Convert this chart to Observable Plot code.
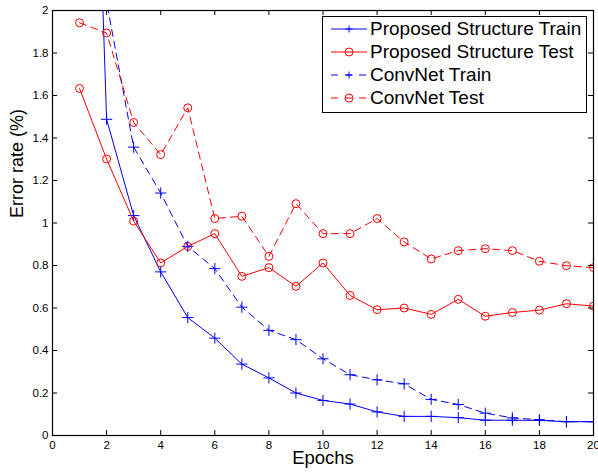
<!DOCTYPE html>
<html>
<head>
<meta charset="utf-8">
<script src="https://cdn.jsdelivr.net/npm/d3@7"></script>
<script src="https://cdn.jsdelivr.net/npm/@observablehq/plot@0.6"></script>
<style>
  html, body { margin: 0; padding: 0; background: #fff; }
  #wrap { position: relative; width: 598px; height: 475px; font-family: "Liberation Sans", Arial, Helvetica, sans-serif; }
  #legend { position: absolute; left: 322px; top: 16px; width: 263px; height: 95px; background: #fff; border: 1px solid #000; }
  #legend .row { position: absolute; left: 0; height: 24px; display: flex; align-items: center; }
  #legend .row span { font-size: 19px; color: #000; margin-left: 3px; white-space: nowrap; }
</style>
</head>
<body>
<div id="wrap"></div>
<script>
const epochs = [1,2,3,4,5,6,7,8,9,10,11,12,13,14,15,16,17,18,19,20];
const proposedTrain = [5.3,1.488,1.035,0.77,0.555,0.458,0.336,0.271,0.200,0.165,0.148,0.111,0.090,0.090,0.084,0.072,0.072,0.071,0.065,0.065];
const proposedTest  = [1.633,1.301,1.009,0.812,0.890,0.950,0.749,0.790,0.702,0.812,0.659,0.592,0.600,0.570,0.641,0.561,0.579,0.590,0.620,0.609];
const convTrain     = [3.2,2.04,1.357,1.141,0.890,0.785,0.604,0.495,0.451,0.361,0.286,0.262,0.243,0.170,0.146,0.105,0.083,0.074,0.065,0.065];
const convTest      = [1.942,1.894,1.473,1.322,1.542,1.021,1.032,0.843,1.091,0.950,0.950,1.021,0.911,0.831,0.870,0.879,0.870,0.820,0.799,0.790];
const seriesNames = ["Proposed Structure Train","Proposed Structure Test","ConvNet Train","ConvNet Test"];
const xTicks = [0,2,4,6,8,10,12,14,16,18,20];
const yTicks = [0,0.2,0.4,0.6,0.8,1,1.2,1.4,1.6,1.8,2];

const styles = [
  {color: "#0000ff", dash: null, symbol: "plus"},
  {color: "#ff0000", dash: null, symbol: "circle"},
  {color: "#0000ff", dash: "7,5", symbol: "plus"},
  {color: "#ff0000", dash: "7,5", symbol: "circle"}
];
const allValues = [proposedTrain, proposedTest, convTrain, convTest];
const series = allValues.map((vals, k) => epochs.map((e, i) => ({epoch: e, value: vals[i], name: seriesNames[k]})));

const marks = [];
series.forEach((data, k) => {
  const s = styles[k];
  marks.push(Plot.line(data, {x: "epoch", y: "value", stroke: s.color, strokeWidth: 1, strokeDasharray: s.dash, clip: true}));
  marks.push(Plot.dot(data, {x: "epoch", y: "value", stroke: s.color, strokeWidth: 1, fill: "none", symbol: s.symbol, r: s.symbol === "plus" ? 3.7 : 4, clip: true}));
});

const fmt = d => String(+d.toFixed(1));

const chart = Plot.plot({
  width: 598,
  height: 475,
  marginLeft: 52,
  marginRight: 5,
  marginTop: 10,
  marginBottom: 40,
  style: {fontFamily: '"Liberation Sans", Arial, Helvetica, sans-serif', fontSize: "11.5px", background: "#fff", color: "#000"},
  x: {domain: [0, 20]},
  y: {domain: [0, 2]},
  marks: [
    ...marks,
    // inward ticks on four sides
    Plot.ruleX(xTicks, {x: d => d, y1: 0, y2: 0, insetTop: -5, stroke: "#000"}),
    Plot.ruleX(xTicks, {x: d => d, y1: 2, y2: 2, insetBottom: -5, stroke: "#000"}),
    Plot.ruleY(yTicks, {y: d => d, x1: 0, x2: 0, insetRight: -5, stroke: "#000"}),
    Plot.ruleY(yTicks, {y: d => d, x1: 20, x2: 20, insetLeft: -5, stroke: "#000"}),
    Plot.frame({stroke: "#000", strokeWidth: 1.2}),
    Plot.axisX({ticks: xTicks, tickSize: 0, tickPadding: 5.5, tickFormat: fmt, label: null, fontSize: 11.5}),
    Plot.axisY({ticks: yTicks, tickSize: 0, tickPadding: 4, tickFormat: fmt, label: null, fontSize: 11.5}),
    Plot.text(["Epochs"], {text: d => d, frameAnchor: "bottom", dy: 28.5, fontSize: 18.5, fill: "#000"}),
    Plot.text(["Error rate (%)"], {text: d => d, frameAnchor: "left", rotate: -90, dx: -35, dy: -5, fontSize: 18, fill: "#000"})
  ]
});

const wrap = document.getElementById("wrap");
wrap.appendChild(chart);

// legend overlay
const legend = document.createElement("div");
legend.id = "legend";
seriesNames.forEach((name, k) => {
  const s = styles[k];
  const row = document.createElement("div");
  row.className = "row";
  row.style.top = (0 + k * 22.9) + "px";
  const svg = d3.create("svg").attr("width", 44).attr("height", 24).style("display", "block");
  svg.append("line").attr("x1", 8).attr("x2", 44).attr("y1", 12).attr("y2", 12)
    .attr("stroke", s.color).attr("stroke-width", 1).attr("stroke-dasharray", s.dash ? "7,7" : null);
  const cx = 26;
  if (s.symbol === "circle") {
    svg.append("circle").attr("cx", cx).attr("cy", 12).attr("r", 4).attr("fill", "none").attr("stroke", s.color);
  } else {
    svg.append("path").attr("d", `M${cx-3.5},12H${cx+3.5}M${cx},8.5V15.5`).attr("stroke", s.color).attr("fill", "none");
  }
  row.appendChild(svg.node());
  const label = document.createElement("span");
  label.textContent = name;
  row.appendChild(label);
  legend.appendChild(row);
});
wrap.appendChild(legend);
</script>
</body>
</html>
